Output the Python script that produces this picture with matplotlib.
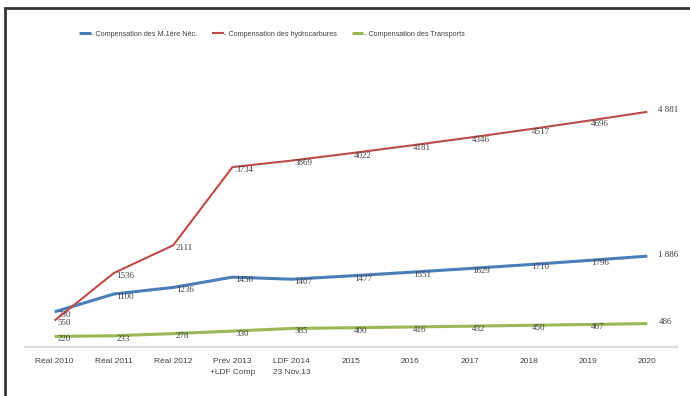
import matplotlib
import matplotlib.pyplot as plt
from matplotlib.patches import Rectangle

matplotlib.use('Agg')

# categories and series
categories = ['Réal 2010', 'Réal 2011', 'Réal 2012', 'Prév 2013\n+LDF Comp',
              'LDF 2014\n23 Nov.13', '2015', '2016', '2017', '2018', '2019', '2020']
mat_nec = [730, 1100, 1236, 1450, 1407, 1477, 1551, 1629, 1710, 1796, 1886]
hydro = [550, 1536, 2111, 3734, 3869, 4022, 4181, 4346, 4517, 4696, 4881]
transports = [220, 233, 278, 330, 385, 400, 416, 432, 450, 467, 486]

series = [
    ('- Compensation des M.1ère Néc.', mat_nec, '#4a7ebb', 2.2),
    ('- Compensation des hydrocarbures', hydro, '#be4b48', 1.5),
    ('- Compensation des Transports', transports, '#98b954', 2.2),
]

plt.rcParams['font.family'] = ['Liberation Sans', 'DejaVu Sans']
serif = ['Liberation Serif', 'DejaVu Serif']

fig = plt.figure(figsize=(6.9, 3.96), dpi=100)
ax = fig.add_axes([25 / 690, 1 - 347 / 396, 652 / 690, 252 / 396])

x = list(range(len(categories)))
for name, vals, col, lw in series:
    ax.plot(x, vals, color=col, lw=lw, label=name, solid_capstyle='butt')
    for i, v in enumerate(vals):
        if i == len(vals) - 1:
            ax.annotate(str(v) if v < 1000 else f'{v // 1000} {v % 1000:03d}',
                        (i, v), xytext=(8, 1), textcoords='offset points',
                        ha='left', va='center', fontsize=6.5, color='#404040',
                        family=serif)
        else:
            ax.annotate(str(v), (i, v), xytext=(2, -2), textcoords='offset points',
                        ha='left', va='center', fontsize=6.5, color='#404040',
                        family=serif)

ax.set_xlim(-0.5, len(categories) - 0.5)
ax.set_ylim(0, 5230)
ax.set_xticks(x)
ax.set_xticklabels(categories, fontsize=6, color='#404040', linespacing=1.8)
ax.tick_params(axis='x', length=0, pad=8)
ax.set_yticks([])
for s in ['top', 'right', 'left']:
    ax.spines[s].set_visible(False)
ax.spines['bottom'].set_color('#d9d9d9')
ax.spines['bottom'].set_linewidth(1.5)

fig.legend(loc='center', bbox_to_anchor=(272 / 690, 1 - 34 / 396), ncol=3, frameon=False,
           fontsize=5.2, handlelength=1.6, columnspacing=2.0, handletextpad=0.1,
           labelcolor='#404040')

# outer frame of the original screenshot
fig.patches.append(Rectangle((5 / 690, -0.1), 1.2, 1.1 - 8 / 396, transform=fig.transFigure,
                             fill=False, edgecolor='#333333', lw=2))

fig.savefig('out.png', dpi=100)
